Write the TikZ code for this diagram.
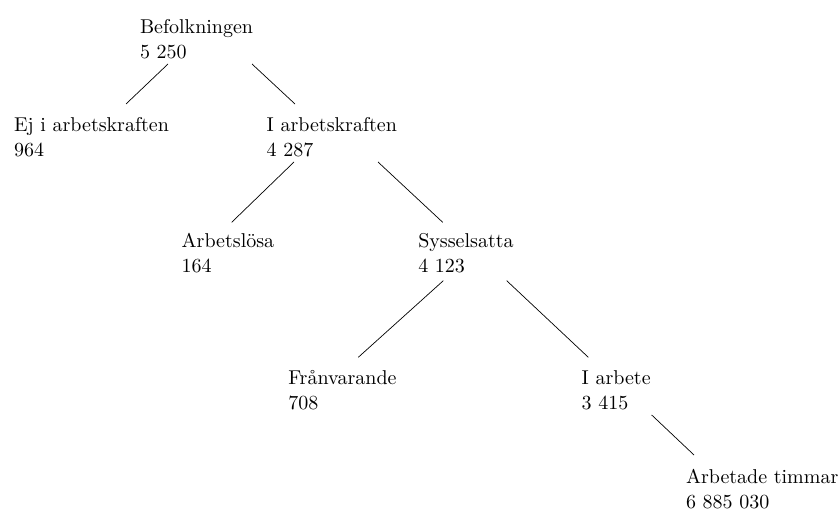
\documentclass[tikz,border=0pt]{standalone}
\usepackage{fontspec}
\setmainfont{lmroman10-regular.otf}
\usetikzlibrary{calc}
\tikzset{
  lbl/.style={anchor=base west, inner sep=0pt, outer sep=0pt, font=\fontsize{20}{25}\selectfont},
  conn/.style={draw=black, line width=0.7pt}
}
\newcommand{\twol}[2]{\vtop{\hbox{#1}\hbox{#2}}}
\begin{document}
\begin{tikzpicture}[x=1pt,y=-1pt]
\useasboundingbox (0,0) rectangle (840,510);
\node[lbl] (bef) at (140,34) {\twol{Befolkningen}{5 250}};
\node[lbl] (ej) at (14,131.5) {\twol{Ej i arbetskraften}{964}};
\node[lbl] (iak) at (266.7,131.5) {\twol{I arbetskraften}{4 287}};
\node[lbl] (arb) at (181.7,247.5) {\twol{Arbetslösa}{164}};
\node[lbl] (sys) at (418.3,247.5) {\twol{Sysselsatta}{4 123}};
\node[lbl] (fra) at (288.3,384.5) {\twol{Frånvarande}{708}};
\node[lbl] (iar) at (581.7,384.5) {\twol{I arbete}{3 415}};
\node[lbl] (tim) at (686,483.5) {\twol{Arbetade timmar}{6 885 030}};
\draw[conn] ($(bef.base west)+(28,30)$) -- ($(ej.base west)+(112,-27.5)$);
\draw[conn] ($(bef.base west)+(112,30)$) -- ($(iak.base west)+(28.3,-27.5)$);
\draw[conn] ($(iak.base west)+(27.3,30.5)$) -- ($(arb.base west)+(50,-25.2)$);
\draw[conn] ($(iak.base west)+(111.3,30.5)$) -- ($(sys.base west)+(24.4,-25.2)$);
\draw[conn] ($(sys.base west)+(25,33.2)$) -- ($(fra.base west)+(70,-27.2)$);
\draw[conn] ($(sys.base west)+(88.4,33.2)$) -- ($(iar.base west)+(6.6,-27.2)$);
\draw[conn] ($(iar.base west)+(70,30.5)$) -- ($(tim.base west)+(8,-28.5)$);
\end{tikzpicture}
\end{document}
